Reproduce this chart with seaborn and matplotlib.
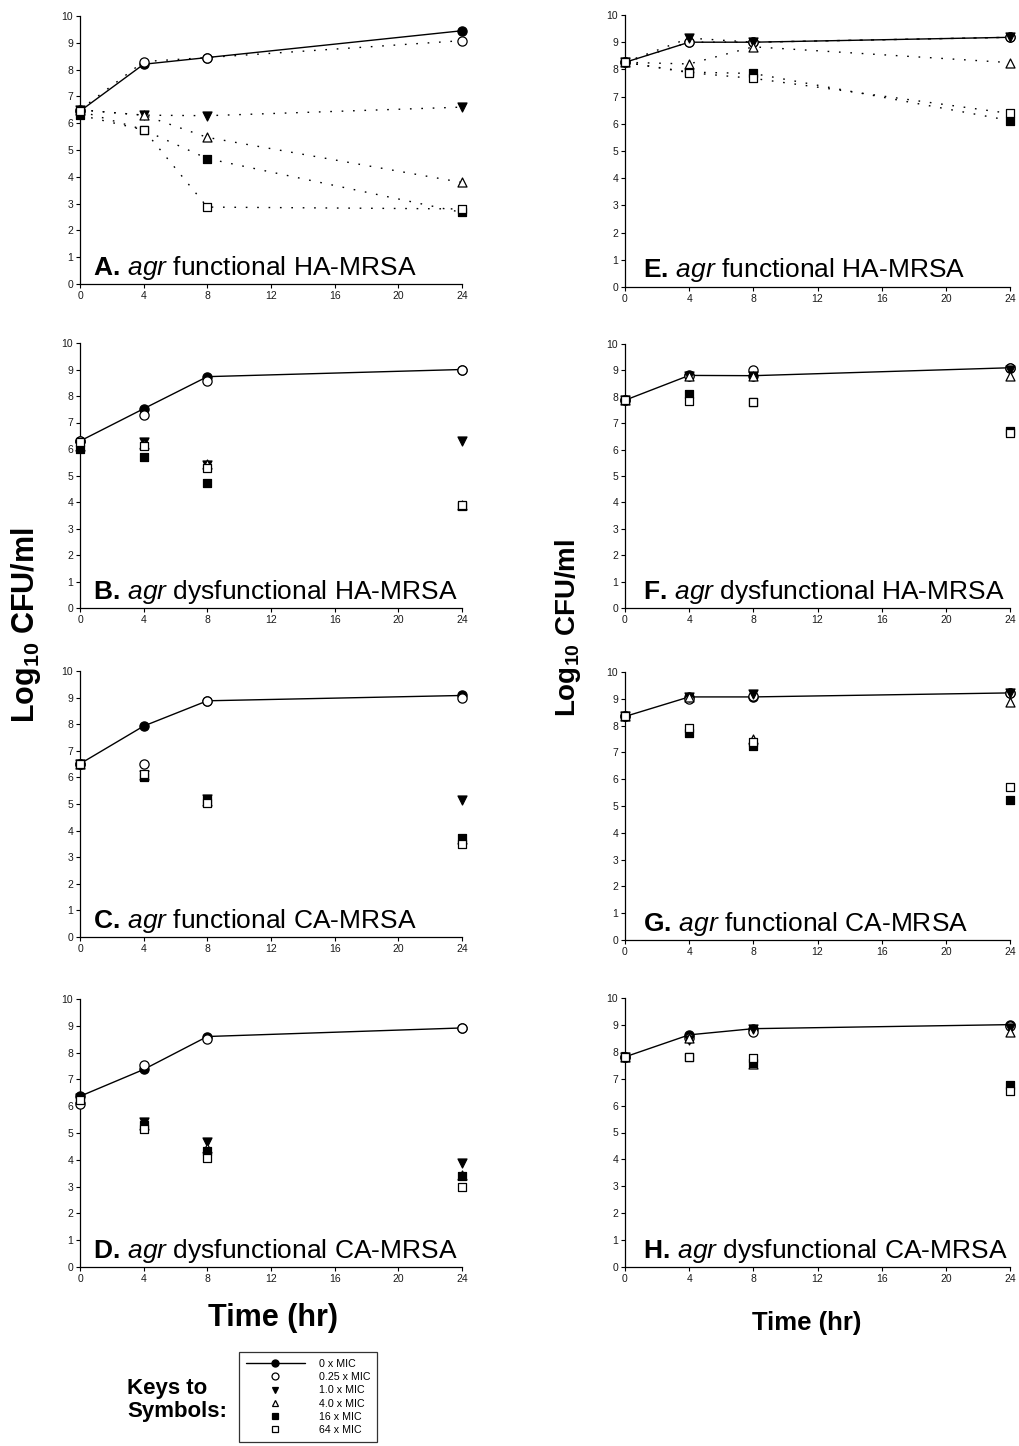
import seaborn as sns
import matplotlib
matplotlib.use("Agg")
from matplotlib import pyplot as plt
from matplotlib.lines import Line2D

sns.set_style("ticks")
plt.rcParams['font.family'] = ['Liberation Sans', 'DejaVu Sans']
plt.rcParams['text.color'] = 'black'
plt.rcParams['axes.labelcolor'] = 'black'
plt.rcParams['mathtext.fontset'] = 'custom'
plt.rcParams['mathtext.rm'] = 'Liberation Sans'
plt.rcParams['mathtext.it'] = 'Liberation Sans:italic'
plt.rcParams['mathtext.bf'] = 'Liberation Sans:bold'
plt.rcParams['mathtext.default'] = 'bf'

# time points (hr)
times = [0, 4, 8, 24]

# series order: 0, 0.25, 1.0, 4.0, 16, 64 x MIC
conc_labels = ['0 x MIC', '0.25 x MIC', '1.0 x MIC', '4.0 x MIC', '16 x MIC', '64 x MIC']

panel_a = [[6.45, 8.2, 8.45, 9.45],
           [6.5, 8.3, 8.45, 9.08],
           [6.5, 6.3, 6.28, 6.6],
           [6.5, 6.3, 5.47, 3.79],
           [6.3, 5.75, 4.68, 2.67],
           [6.45, 5.76, 2.87, 2.8]]
panel_b = [[6.3, 7.52, 8.73, 9.0],
           [6.3, 7.27, 8.56, 9.0],
           [6.1, 6.28, 5.4, 6.3],
           [6.1, 6.2, 5.43, 3.9],
           [6.0, 5.69, 4.7, 3.85],
           [6.27, 6.13, 5.29, 3.87]]
panel_c = [[6.51, 7.93, 8.88, 9.08],
           [6.5, 6.49, 8.86, 9.0],
           [6.5, 6.1, 5.19, 5.14],
           [6.5, 6.1, 5.1, 3.7],
           [6.5, 6.03, 5.15, 3.72],
           [6.5, 6.13, 5.05, 3.5]]
panel_d = [[6.37, 7.37, 8.6, 8.92],
           [6.1, 7.52, 8.52, 8.92],
           [6.3, 5.42, 4.68, 3.88],
           [6.3, 5.3, 4.45, 3.45],
           [6.3, 5.3, 4.34, 3.4],
           [6.25, 5.14, 4.06, 2.97]]
panel_e = [[8.26, 9.0, 9.0, 9.18],
           [8.26, 9.0, 9.0, 9.18],
           [8.26, 9.15, 9.0, 9.18],
           [8.26, 8.2, 8.83, 8.25],
           [8.26, 7.9, 7.85, 6.12],
           [8.26, 7.88, 7.67, 6.38]]
panel_f = [[7.87, 8.81, 8.8, 9.1],
           [7.87, 8.8, 9.0, 9.1],
           [7.87, 8.8, 8.8, 9.02],
           [7.87, 8.8, 8.8, 8.77],
           [7.87, 8.11, 7.8, 6.71],
           [7.87, 7.84, 7.79, 6.62]]
panel_g = [[8.34, 9.07, 9.07, 9.22],
           [8.34, 8.98, 9.1, 9.2],
           [8.34, 9.05, 9.18, 9.2],
           [8.34, 9.05, 7.51, 8.87],
           [8.34, 7.73, 7.25, 5.24],
           [8.34, 7.92, 7.4, 5.7]]
panel_h = [[7.81, 8.63, 8.86, 9.01],
           [7.81, 8.5, 8.72, 8.95],
           [7.81, 8.45, 8.85, 8.9],
           [7.81, 8.5, 7.55, 8.73],
           [7.81, 7.8, 7.58, 6.77],
           [7.81, 7.79, 7.78, 6.56]]

panel_titles = [('A', 'functional HA-MRSA'), ('B', 'dysfunctional HA-MRSA'),
                ('C', 'functional CA-MRSA'), ('D', 'dysfunctional CA-MRSA'),
                ('E', 'functional HA-MRSA'), ('F', 'dysfunctional HA-MRSA'),
                ('G', 'functional CA-MRSA'), ('H', 'dysfunctional CA-MRSA')]
panel_data = [panel_a, panel_b, panel_c, panel_d, panel_e, panel_f, panel_g, panel_h]
dotted_panels = ['A', 'E']

markers = ['o', 'o', 'v', '^', 's', 's']
fills = ['black', 'white', 'black', 'white', 'black', 'white']
sizes = [44, 44, 42, 42, 32, 32]

W, H = 1019, 1446
fig = plt.figure(figsize=(W / 100, H / 100), dpi=100)

# pixel boxes (left, right, top, bottom)
col_x = [(80, 462), (625, 1010)]
row_y = [[(16, 284), (343, 608), (671, 937), (999, 1267)],
         [(15, 287), (344, 608), (672, 940), (998, 1267)]]

for idx, (letter, desc) in enumerate(panel_titles):
    col = idx // 4
    row = idx % 4
    x0, x1 = col_x[col]
    y0, y1 = row_y[col][row]
    ax = fig.add_axes([x0 / W, 1 - y1 / H, (x1 - x0) / W, (y1 - y0) / H])
    data = panel_data[idx]

    for k, vals in enumerate(data):
        if k == 0:
            sns.lineplot(x=times, y=vals, ax=ax, color='black', linewidth=1, zorder=2)
        elif letter in dotted_panels:
            sns.lineplot(x=times, y=vals, ax=ax, color='black', linewidth=1,
                         linestyle=(0, (1.2, 7)), zorder=2)
        sns.scatterplot(x=times, y=vals, ax=ax, marker=markers[k], s=sizes[k],
                        color=fills[k], edgecolor='black', linewidth=0.9,
                        zorder=3 + k, clip_on=False)

    ax.set_xlim(0, 24)
    ax.set_ylim(0, 10)
    ax.set_xticks([0, 4, 8, 12, 16, 20, 24])
    ax.set_yticks(range(0, 11))
    ax.tick_params(labelsize=7.5, length=3, width=0.8, color='black', labelcolor='#1a1a1a', pad=2)
    for s in ['top', 'right']:
        ax.spines[s].set_visible(False)
    for s in ['left', 'bottom']:
        ax.spines[s].set_color('black')
        ax.spines[s].set_linewidth(0.9)
    ax.set_xlabel('')
    ax.set_ylabel('')
    tx = 0.034 if col == 0 else 0.047
    ax.text(tx, 0.035, r'$\mathbf{' + letter + r'.}\,\mathit{agr}$ ' + desc,
            transform=ax.transAxes, fontsize=19, va='baseline', ha='left')

# axis titles
fig.text(26 / W, 1 - 625 / H, 'Log$_{10}$ CFU/ml', rotation=90, fontsize=22,
         fontweight='bold', ha='center', va='center')
fig.text(568 / W, 1 - 628 / H, 'Log$_{10}$ CFU/ml', rotation=90, fontsize=20,
         fontweight='bold', ha='center', va='center')
fig.text(273 / W, 1 - 1318 / H, 'Time (hr)', fontsize=22, fontweight='bold',
         ha='center', va='center')
fig.text(807 / W, 1 - 1323 / H, 'Time (hr)', fontsize=18.5, fontweight='bold',
         ha='center', va='center')

# legend
handles = [Line2D([0], [0], color='black', lw=1, marker='o', markersize=5,
                  markerfacecolor='black', markeredgecolor='black')]
for k in range(1, 6):
    handles.append(Line2D([0], [0], linestyle='none', marker=markers[k], markersize=5,
                          markerfacecolor=fills[k], markeredgecolor='black', markeredgewidth=0.9))
leg = fig.legend(handles, conc_labels, loc='upper left',
                 bbox_to_anchor=(239 / W, 1 - 1352 / H), fontsize=7.7,
                 handlelength=5.5, handletextpad=1.3, labelspacing=0.3,
                 borderpad=0.65, frameon=True, fancybox=False, borderaxespad=0)
leg.get_frame().set_edgecolor('black')
leg.get_frame().set_linewidth(0.9)

fig.text(127 / W, 1 - 1400 / H, 'Keys to\nSymbols:', fontsize=16, fontweight='bold',
         ha='left', va='center', linespacing=1.15)

fig.savefig('out.png', dpi=100)
